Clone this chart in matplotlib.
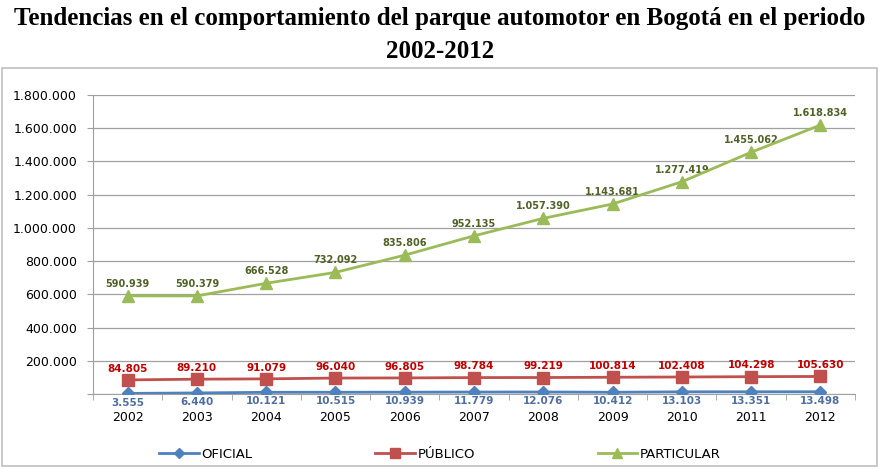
import matplotlib.pyplot as plt
from matplotlib.patches import Rectangle
from matplotlib.lines import Line2D

years = ['2002', '2003', '2004', '2005', '2006', '2007', '2008', '2009', '2010', '2011', '2012']
oficial = [3555, 6440, 10121, 10515, 10939, 11779, 12076, 10412, 13103, 13351, 13498]
publico = [84805, 89210, 91079, 96040, 96805, 98784, 99219, 100814, 102408, 104298, 105630]
particular = [590939, 590379, 666528, 732092, 835806, 952135, 1057390, 1143681, 1277419, 1455062, 1618834]
yticks = [0, 200000, 400000, 600000, 800000, 1000000, 1200000, 1400000, 1600000, 1800000]


def fmt(v):
    return f'{v:,}'.replace(',', '.')


W, H = 880, 468
fig = plt.figure(figsize=(W / 100, H / 100), dpi=100)

# title
fig.text(0.5, 1 - 19 / H, 'Tendencias en el comportamiento del parque automotor en Bogotá en el periodo',
         ha='center', va='center', fontsize=18, fontweight='bold', family='Liberation Serif')
fig.text(0.5, 1 - 52 / H, '2002-2012', ha='center', va='center', fontsize=18,
         fontweight='bold', family='Liberation Serif')

# chart frame
fig.patches.append(Rectangle((2 / W, 2 / H), 875 / W, (H - 70) / H, transform=fig.transFigure,
                             fill=False, edgecolor='#bfbfbf', lw=1.2))

left, right, top, bottom = 93, 855, 95, 394
ax = fig.add_axes([left / W, 1 - bottom / H, (right - left) / W, (bottom - top) / H])

x = list(range(len(years)))
blue, red, green = '#4F81BD', '#C0504D', '#9BBB59'
ax.plot(x, oficial, color=blue, lw=2, marker='D', ms=6, zorder=5)
ax.plot(x, publico, color=red, lw=2, marker='s', ms=8, zorder=5)
ax.plot(x, particular, color=green, lw=2, marker='^', ms=9, zorder=5)

for i in x:
    ax.annotate(fmt(particular[i]), (i, particular[i]), xytext=(0, 5), textcoords='offset points',
                ha='center', va='bottom', fontsize=7, fontweight='bold', color='#4F6228')
    ax.annotate(fmt(publico[i]), (i, publico[i]), xytext=(0, 4.5), textcoords='offset points',
                ha='center', va='bottom', fontsize=7.5, fontweight='bold', color='#C00000')
    ax.annotate(fmt(oficial[i]), (i, oficial[i]), xytext=(0, -3), textcoords='offset points',
                ha='center', va='top', fontsize=7.5, fontweight='bold', color='#4F6FA0', zorder=6)

ax.set_xlim(-0.5, len(years) - 0.5)
ax.set_ylim(0, 1800000)
ax.set_yticks(yticks)
ax.set_yticklabels([fmt(v) if v else '' for v in yticks], fontsize=9)
ax.set_xticks(x)
ax.set_xticklabels(years, fontsize=9)
ax.set_xticks([i + 0.5 for i in range(-1, len(years))], minor=True)
ax.tick_params(axis='x', which='major', length=0, pad=12)
ax.tick_params(axis='x', which='minor', length=4, color='#a0a0a0')
ax.tick_params(axis='y', length=4, color='#a0a0a0', pad=7.5)
ax.grid(axis='y', color='#a0a0a0', lw=0.9)
ax.set_axisbelow(True)
for s in ['top', 'right']:
    ax.spines[s].set_visible(False)
ax.spines['left'].set_color('#a0a0a0')
ax.spines['bottom'].set_color('#a0a0a0')

handles = [Line2D([], [], color=blue, lw=2, marker='D', ms=5),
           Line2D([], [], color=red, lw=2, marker='s', ms=7),
           Line2D([], [], color=green, lw=2, marker='^', ms=7)]
fig.legend(handles, ['OFICIAL', 'PÚBLICO', 'PARTICULAR'], loc='center', ncol=3,
           bbox_to_anchor=(0.5, 1 - 454 / H), frameon=False, fontsize=9.5,
           columnspacing=9.3, handlelength=3, handletextpad=0.2)

fig.savefig('out.png', dpi=100)
